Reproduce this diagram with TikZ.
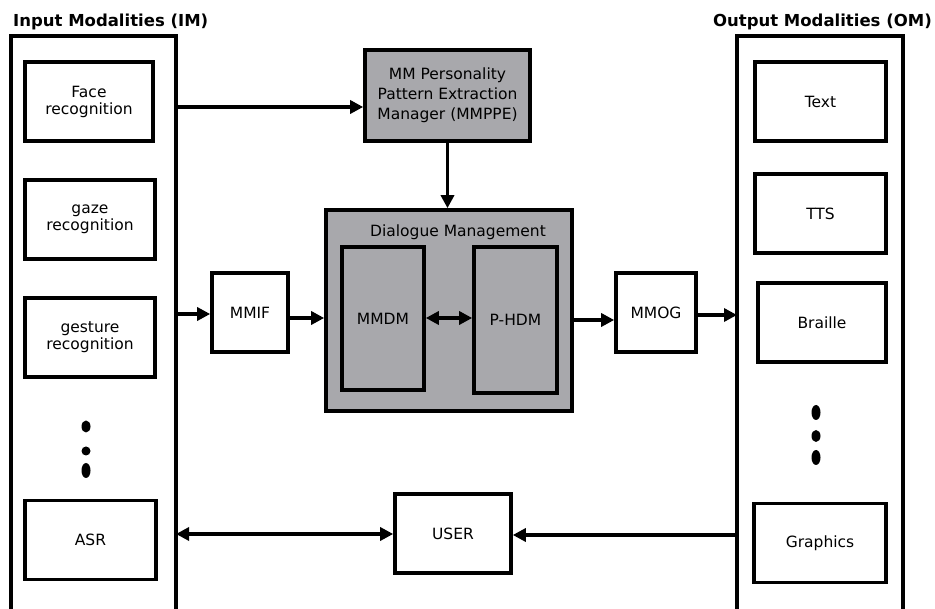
\documentclass[tikz,border=0pt]{standalone}
\usepackage{fontspec}
\setmainfont{DejaVu Sans}
\usetikzlibrary{arrows.meta}
\definecolor{boxgray}{RGB}{168,168,172}
\begin{document}
\begin{tikzpicture}[x=1pt,y=-1pt,
  frame/.style={line width=3.4pt},
  mbox/.style={draw,line width=3.6pt,fill=white,minimum width=#1,minimum height=79pt,inner sep=0pt,align=center,font=\fontsize{15.5}{17}\selectfont},
  mbox/.default=130pt,
  gbox/.style={draw,line width=3.6pt,fill=boxgray,inner sep=0pt,align=center,font=\fontsize{15.5}{20}\selectfont},
  title/.style={inner sep=0pt,font=\bfseries\fontsize{16.5}{18}\selectfont},
  arr/.style={line width=3.4pt,-{Triangle[length=13pt,width=13pt]}},
  darr/.style={line width=3.4pt,{Triangle[length=13pt,width=13pt]}-{Triangle[length=13pt,width=13pt]}},
  dot/.style={fill=black}
]
\useasboundingbox (0,0) rectangle (935,609);

% titles
\node[title,anchor=base west] (imt) at (13,27) {Input Modalities (IM)};
\node[title,anchor=base east] (omt) at (932,27) {Output Modalities (OM)};

% frames
\draw[frame] (11,609) -- (11,36) -- (176,36) -- (176,609);
\draw[frame] (737,609) -- (737,36) -- (903,36) -- (903,609);
\coordinate (imr1) at (176,107);
\coordinate (imr2) at (176,314);
\coordinate (imr3) at (176,534);
\coordinate (oml1) at (737,315);
\coordinate (oml2) at (737,535);

% input modality boxes
\node[mbox=128pt] (face) at (89,101.5) {Face\\recognition};
\node[mbox] (gaze) at (90,219.5) {gaze\\recognition};
\node[mbox] (gesture) at (90,337.5) {gesture\\recognition};
\node[mbox=131pt] (asr) at (90.5,540) {ASR};

% output modality boxes
\node[mbox=131pt] (text) at (820.5,101.5) {Text};
\node[mbox=131pt] (tts) at (820.5,213.5) {TTS};
\node[mbox=128pt] (braille) at (822,322.5) {Braille};
\node[mbox=132pt] (graphics) at (820,543) {Graphics};

% dots
\fill[dot] (86,426.5) ellipse [x radius=4.5, y radius=6];
\fill[dot] (86,451) ellipse [x radius=4.5, y radius=4.5];
\fill[dot] (86,470.5) ellipse [x radius=4.5, y radius=7.5];
\fill[dot] (816,412.5) ellipse [x radius=4.5, y radius=7.5];
\fill[dot] (816,436) ellipse [x radius=4.5, y radius=6];
\fill[dot] (816,457.5) ellipse [x radius=4.5, y radius=7.5];

% central components
\node[gbox,minimum width=165pt,minimum height=91pt] (mmppe) at (447.5,95.5)
  {MM Personality\\Pattern Extraction\\Manager (MMPPE)};
\node[gbox,minimum width=246pt,minimum height=201pt] (dm) at (449,310.5) {};
\node[inner sep=0pt,font=\fontsize{15.5}{17}\selectfont] (dmlabel) at (458,232) {Dialogue Management};
\node[gbox,minimum width=82pt,minimum height=143pt,font=\fontsize{15.5}{17}\selectfont] (mmdm) at (383,318.5) {MMDM};
\node[gbox,minimum width=83pt,minimum height=146pt,font=\fontsize{15.5}{17}\selectfont] (phdm) at (515.5,320) {P-HDM};
\node[mbox=76pt] (mmif) at (250,312.5) {MMIF};
\node[mbox=80pt] (mmog) at (656,312.5) {MMOG};
\node[mbox=116pt] (user) at (453,533.5) {USER};

% connectors
\draw[arr] (imr1) -- (mmppe.west |- imr1);
\draw[arr] (mmppe.south) -- (mmppe.south |- dm.north);
\draw[arr] (imr2) -- (mmif.west |- imr2);
\draw[arr] (mmif.east |- 0,318) -- (dm.west |- 0,318);
\draw[darr] (mmdm.east |- 0,318) -- (phdm.west |- 0,318);
\draw[arr] (dm.east |- 0,320) -- (mmog.west |- 0,320);
\draw[arr] (mmog.east |- oml1) -- (oml1);
\draw[darr] (imr3) -- (user.west |- imr3);
\draw[arr] (oml2) -- (user.east |- oml2);
\end{tikzpicture}
\end{document}
